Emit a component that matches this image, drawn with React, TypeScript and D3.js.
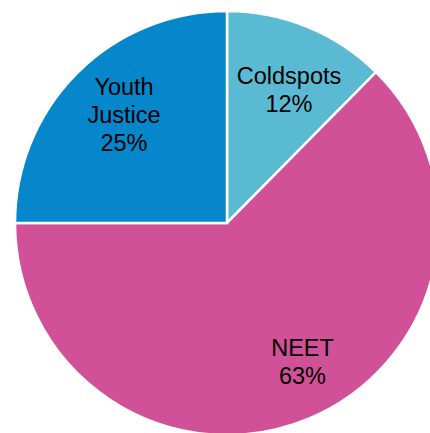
import React from "react";
import * as d3 from "d3";

const categories = ["Coldspots", "NEET", "Youth Justice"];
const values = [12.4, 62.6, 25];
const labelLines = [["Coldspots", "12%"], ["NEET", "63%"], ["Youth", "Justice", "25%"]];
const colors = ["#5BBAD3", "#D05198", "#0687CC"];

const W = 430;
const H = 433;
const cx = 227;
const cy = 223;
const R = 212;

export default function App() {
  const pie = d3.pie<number>().sort(null).value((d) => d)(values);
  const arc = d3.arc<d3.PieArcDatum<number>>().innerRadius(0).outerRadius(R);
  const lh = 28;
  const labelPos = [
    [62, -133],
    [75.5, 138.5],
    [-103, -108],
  ];
  return (
    <svg
      width={W}
      height={H}
      style={{ position: "absolute", left: 0, top: 0, background: "#fff" }}
      fontFamily="'Liberation Sans', Arial, sans-serif"
    >
      <g transform={`translate(${cx},${cy})`}>
        {pie.map((p, i) => (
          <path key={categories[i]} d={arc(p) || ""} fill={colors[i]} stroke="#fff" strokeWidth={2.5} />
        ))}
        {pie.map((p, i) => {
          const [x, y] = labelPos[i];
          const lines = labelLines[i];
          const y0 = y - ((lines.length - 1) * lh) / 2;
          return (
            <text key={"t" + i} x={x} y={y0} textAnchor="middle" fontSize={23.5} fill="#000">
              {lines.map((l, j) => (
                <tspan key={j} x={x} y={y0 + j * lh} dy="0.36em">
                  {l}
                </tspan>
              ))}
            </text>
          );
        })}
      </g>
    </svg>
  );
}
